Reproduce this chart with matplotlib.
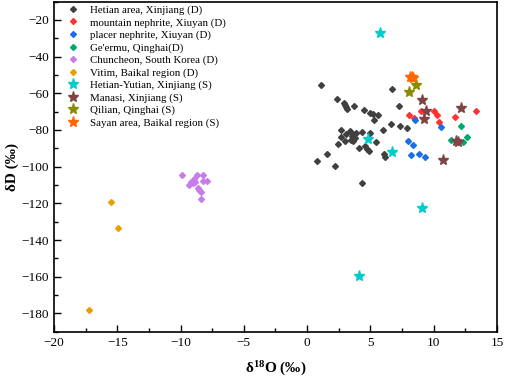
import matplotlib.pyplot as plt
from matplotlib.ticker import MultipleLocator

plt.rcParams['font.family'] = ['Liberation Serif', 'DejaVu Serif']
plt.rcParams['mathtext.fontset'] = 'custom'
plt.rcParams['mathtext.rm'] = 'Liberation Serif'
plt.rcParams['mathtext.bf'] = 'Liberation Serif:bold'

# Hetian area, Xinjiang (D)
hetian_x = [1.08, 2.37, 2.88, 2.98, 3.11, 3.19, 3.67, 4.48, 4.98, 5.19, 5.59, 5.27,
            6.69, 7.28, 6.59, 5.98, 7.38, 7.88, 2.69, 2.64, 3.06, 3.37, 3.59, 3.90,
            4.30, 3.43, 3.63, 3.77, 3.51, 3.00, 2.48, 4.98, 5.43, 4.11, 4.61, 4.77,
            4.90, 6.08, 6.19, 1.58, 0.79, 2.19, 4.30]
hetian_y = [-55.4, -63.0, -65.2, -66.3, -67.6, -68.7, -67.0, -69.2, -70.8, -71.4, -72.1, -74.8,
            -57.7, -66.7, -76.5, -79.8, -78.0, -78.8, -79.8, -83.8, -82.1, -80.7, -82.1, -81.9,
            -81.0, -85.2, -86.2, -84.3, -83.4, -85.8, -87.6, -81.6, -86.3, -90.0, -88.9, -90.3,
            -91.4, -92.9, -94.7, -92.9, -96.7, -99.8, -108.7]

# mountain nephrite, Xiuyan (D)
mountain_x = [8.09, 8.48, 8.98, 9.99, 10.30, 10.41, 11.70, 13.32]
mountain_y = [-71.7, -73.7, -69.8, -69.8, -71.7, -75.7, -72.8, -69.8]

# placer nephrite, Xiuyan (D)
placer_x = [8.50, 10.60, 8.00, 8.40, 8.21, 8.82, 9.32]
placer_y = [-74.8, -78.3, -86.2, -88.0, -93.6, -93.0, -94.7]

# Ge'ermu, Qinghai (D)
geermu_x = [12.18, 12.61, 11.37, 12.29, 11.85]
geermu_y = [-77.7, -83.8, -85.6, -86.7, -85.9]

# Chuncheon, South Korea (D)
chun_x = [-9.91, -8.72, -8.25, -7.93, -8.20, -8.91, -9.04, -9.17, -9.31, -8.99, -8.83,
          -8.64, -8.52, -8.41, -8.41]
chun_y = [-104.5, -104.5, -104.5, -107.6, -107.6, -106.7, -107.6, -108.6, -109.8, -108.9, -108.2,
          -111.6, -112.9, -114.0, -117.6]

# Vitim, Baikal region (D)
vitim_x = [-15.52, -14.94, -17.26]
vitim_y = [-119.3, -133.2, -178.3]

# Hetian-Yutian, Xinjiang (S)
hy_x = [5.78, 4.79, 6.71, 9.08, 4.08]
hy_y = [-26.9, -84.7, -92.0, -122.6, -159.7]

# Manasi, Xinjiang (S)
manasi_x = [9.10, 9.39, 9.21, 12.16, 11.74, 11.95, 10.76]
manasi_y = [-63.9, -69.8, -73.9, -68.1, -85.8, -86.3, -96.2]

# Qilian, Qinghai (S)
qilian_x = [8.60, 8.08]
qilian_y = [-55.7, -59.4]

# Sayan area, Baikal region (S)
sayan_x = [8.15, 8.40, 8.30]
sayan_y = [-50.9, -51.8, -51.3]

fig = plt.figure(figsize=(5.05, 3.84), dpi=100)
ax = fig.add_axes([0.107, 0.136, 0.877, 0.860])

d_ms = 3.0
s_ms = 8.0
ax.plot(hetian_x, hetian_y, 'D', color='#404040', ms=d_ms, ls='none', label='Hetian area, Xinjiang (D)')
ax.plot(mountain_x, mountain_y, 'D', color='#ff3333', ms=d_ms, ls='none', label='mountain nephrite, Xiuyan (D)')
ax.plot(placer_x, placer_y, 'D', color='#1a6fe6', ms=d_ms, ls='none', label='placer nephrite, Xiuyan (D)')
ax.plot(geermu_x, geermu_y, 'D', color='#00a86b', ms=d_ms, ls='none', label="Ge'ermu, Qinghai(D)")
ax.plot(chun_x, chun_y, 'D', color='#c77ce8', ms=d_ms, ls='none', label='Chuncheon, South Korea (D)')
ax.plot(vitim_x, vitim_y, 'D', color='#e6a100', ms=d_ms, ls='none', label='Vitim, Baikal region (D)')
ax.plot(hy_x, hy_y, '*', color='#00cccc', ms=s_ms, ls='none', label='Hetian-Yutian, Xinjiang (S)')
ax.plot(manasi_x, manasi_y, '*', color='#7f4545', ms=s_ms, ls='none', label='Manasi, Xinjiang (S)')
ax.plot(qilian_x, qilian_y, '*', color='#8b8b00', ms=s_ms, ls='none', label='Qilian, Qinghai (S)')
ax.plot(sayan_x, sayan_y, '*', color='#ff6600', ms=s_ms, ls='none', label='Sayan area, Baikal region (S)')

ax.set_xlim(-20, 15)
ax.set_ylim(-190, -10)
ax.xaxis.set_major_locator(MultipleLocator(5))
ax.xaxis.set_minor_locator(MultipleLocator(2.5))
ax.yaxis.set_major_locator(MultipleLocator(20))
ax.yaxis.set_minor_locator(MultipleLocator(10))
ax.tick_params(which='both', direction='in', labelsize=9.5, width=1)
ax.tick_params(which='major', length=5)
ax.tick_params(which='minor', length=3)
for s in ax.spines.values():
    s.set_linewidth(1.2)

ax.set_xlabel(r'$\mathbf{\delta^{18}O}$ (‰)', fontsize=11, fontweight='bold', labelpad=8)
ax.set_ylabel('δD (‰)', fontsize=11, fontweight='bold', labelpad=2)

ax.legend(loc='upper left', bbox_to_anchor=(0.012, 1.012), frameon=False, fontsize=7.8,
          handletextpad=0.9, labelspacing=0.25, borderaxespad=0.3, handlelength=1.2)

fig.savefig('out.png', dpi=100)
